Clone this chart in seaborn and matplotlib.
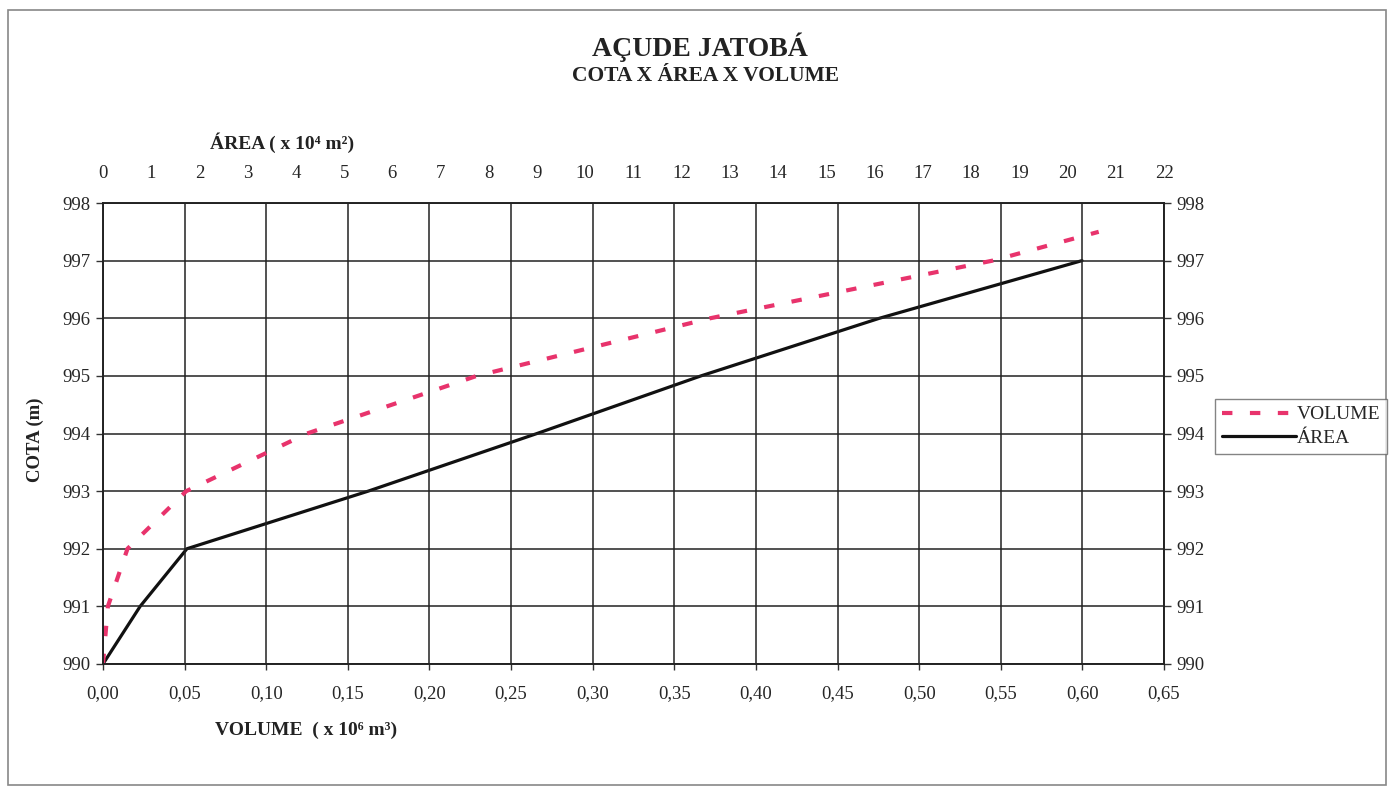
import matplotlib
matplotlib.use("Agg")
import matplotlib.pyplot as plt
import seaborn as sns
import pandas as pd
from matplotlib.patches import Rectangle

# ---- data ----
cota_area = [990, 991, 992, 993, 994, 995, 996, 997]
area = [0.0, 0.77, 1.74, 5.5, 9.0, 12.4, 16.1, 20.3]          # x 10^4 m2

cota_vol = [990, 991, 992, 993, 994, 995, 996, 997, 997.5]
volume = [0.0, 0.003, 0.015, 0.051, 0.125, 0.229, 0.372, 0.545, 0.61]  # x 10^6 m3

vol_ticks = [0.00, 0.05, 0.10, 0.15, 0.20, 0.25, 0.30, 0.35, 0.40, 0.45, 0.50, 0.55, 0.60, 0.65]
area_ticks = list(range(0, 23))
cota_ticks = [990, 991, 992, 993, 994, 995, 996, 997, 998]

title = "AÇUDE JATOBÁ"
subtitle = "COTA X ÁREA X VOLUME"

sns.set_theme(style="white")
plt.rcParams["font.family"] = ["Liberation Serif", "DejaVu Serif"]

PINK = "#E8336C"
fig = plt.figure(figsize=(13.89, 7.90), dpi=100)
W, H = 1389, 790
ax = fig.add_axes([103 / W, 1 - 664 / H, (1164 - 103) / W, (664 - 203) / H])

df_vol = pd.DataFrame({"cota": cota_vol, "volume": volume})
df_area = pd.DataFrame({"cota": cota_area, "area": area})

sns.lineplot(data=df_vol, x="volume", y="cota", ax=ax, sort=False, color=PINK,
             linewidth=3.0, label="VOLUME", legend=False)
ax.lines[-1].set_dashes([2.5, 4.2])
ax.lines[-1].set_dash_capstyle("butt")

ax.set_xlim(0, 0.65)
ax.set_ylim(990, 998)
ax.set_xticks(vol_ticks)
ax.set_xticklabels([f"{v:.2f}".replace(".", ",") for v in vol_ticks])
ax.set_yticks(cota_ticks)
ax.set_yticklabels([str(c) for c in cota_ticks])
ax.grid(True, color="#222222", linewidth=1.1)
ax.set_axisbelow(True)
for s in ax.spines.values():
    s.set_color("#222222")
    s.set_linewidth(1.4)
ax.tick_params(axis="x", bottom=True, length=4, width=1, color="#333333", pad=11, labelsize=13.5)
ax.tick_params(axis="y", left=True, right=True, labelright=True, length=5, width=1,
               color="#333333", pad=4, labelsize=13.5)
ax.set_xlabel("")
ax.set_ylabel("")

ax2 = ax.twiny()
sns.lineplot(data=df_area, x="area", y="cota", ax=ax2, sort=False, color="#111111",
             linewidth=2.3, label="ÁREA", legend=False)
ax2.set_xlim(0, 22)
ax2.set_xticks(area_ticks)
ax2.set_xticklabels([str(a) for a in area_ticks])
ax2.tick_params(axis="x", top=True, length=0, pad=15, labelsize=13.5)
ax2.set_xlabel("")
ax2.set_ylabel("")
ax2.grid(False)
for s in ax2.spines.values():
    s.set_visible(False)
ax.set_zorder(ax2.get_zorder() + 1)
ax.patch.set_visible(False)

# texts
fig.text(700 / W, 1 - 47 / H, title, ha="center", va="center", fontsize=20, fontweight="bold", color="#222222")
fig.text(705 / W, 1 - 76 / H, subtitle, ha="center", va="center", fontsize=15.5, fontweight="bold", color="#222222")
fig.text(210 / W, 1 - 143 / H, "ÁREA ( x 10⁴ m²)", ha="left", va="center", fontsize=14, fontweight="bold",
         color="#222222")
fig.text(215 / W, 1 - 730 / H, "VOLUME  ( x 10⁶ m³)", ha="left", va="center", fontsize=14, fontweight="bold",
         color="#222222")
fig.text(35 / W, 1 - 440 / H, "COTA (m)", ha="center", va="center", rotation=90, fontsize=13.5,
         fontweight="bold", color="#222222")

handles = ax.get_lines()[-1:] + ax2.get_lines()[-1:]
leg = fig.legend(handles=handles, labels=["VOLUME", "ÁREA"], loc="upper left",
                 bbox_to_anchor=(1215 / W, 1 - 399 / H), frameon=True, fancybox=False,
                 fontsize=14, handlelength=3.8, handletextpad=0.05, borderpad=0.35,
                 labelspacing=0.3, borderaxespad=0)
leg.get_frame().set_edgecolor("#666666")
leg.get_frame().set_linewidth(1)
leg.get_frame().set_facecolor("white")

fig.patches.append(Rectangle((8 / W, 5 / H), (1386 - 8) / W, (780 - 5) / H, transform=fig.transFigure,
                             fill=False, edgecolor="#888888", linewidth=1.2))

fig.savefig("out.png", dpi=100)
